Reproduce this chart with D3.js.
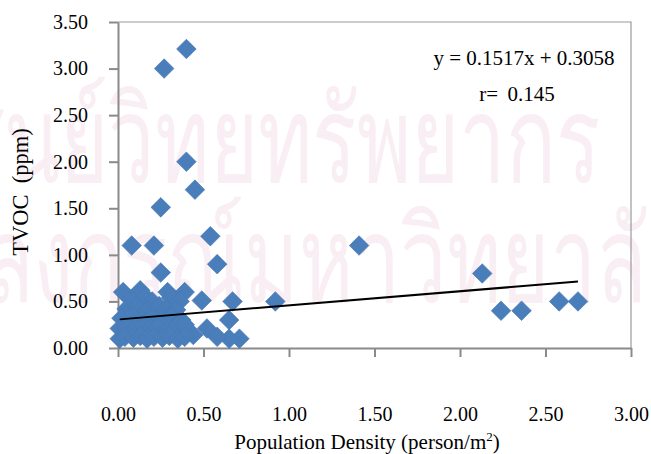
<!DOCTYPE html>
<html lang="en">
<head>
  <meta charset="UTF-8">
  <title>TVOC vs Population Density</title>
  <script src="https://d3js.org/d3.v7.min.js"></script>
  <style>
    body { margin: 0; background: #fff; }
    text { font-family: "Liberation Serif", "Times New Roman", serif; }
  </style>
</head>
<body>
<script>
  // population density (person/m2) and TVOC (ppm)
  var density = [
    0.27, 0.40, 0.40, 0.45, 0.25, 0.08, 0.21, 0.54, 0.58, 0.25,
    0.92, 0.67, 0.49, 0.65, 0.71, 0.65, 0.58, 0.52, 0.44,
    1.41, 2.13, 2.24, 2.36, 2.58, 2.69,
    0.03, 0.13, 0.29, 0.39,
    0.08, 0.16, 0.20, 0.31, 0.36,
    0.05, 0.11, 0.17, 0.24, 0.28, 0.34,
    0.02, 0.08, 0.14, 0.20, 0.26, 0.31, 0.37,
    0.01, 0.05, 0.10, 0.15, 0.19, 0.23, 0.29, 0.34, 0.39,
    0.01, 0.04, 0.09, 0.13, 0.17, 0.21, 0.26, 0.30, 0.35, 0.39
  ];
  var tvoc = [
    3.00, 3.21, 2.00, 1.70, 1.51, 1.10, 1.10, 1.20, 0.90, 0.81,
    0.50, 0.50, 0.51, 0.30, 0.10, 0.10, 0.12, 0.21, 0.14,
    1.10, 0.80, 0.40, 0.40, 0.50, 0.50,
    0.60, 0.62, 0.60, 0.60,
    0.52, 0.55, 0.50, 0.54, 0.50,
    0.42, 0.44, 0.40, 0.45, 0.42, 0.41,
    0.32, 0.34, 0.30, 0.33, 0.31, 0.34, 0.30,
    0.21, 0.23, 0.20, 0.24, 0.21, 0.22, 0.20, 0.23, 0.25,
    0.10, 0.12, 0.11, 0.13, 0.10, 0.12, 0.11, 0.13, 0.10, 0.12
  ];
  var xTicks = [0, 0.5, 1, 1.5, 2, 2.5, 3];
  var yTicks = [0, 0.5, 1, 1.5, 2, 2.5, 3, 3.5];
  var slope = 0.1517, intercept = 0.3058, rValue = 0.145;
  var watermark = ["ศูนย์วิทยทรัพยากร", "จุฬาลงกรณ์มหาวิทยาลัย"];

  var W = 651, H = 454,
    plot = { left: 118, top: 22, right: 631, bottom: 348 };

  var svg = d3.select("body").append("svg")
    .attr("width", W)
    .attr("height", H);

  // faint background watermark, squeezed horizontally
  var sx = 0.69;
  var wm = svg.append("g")
    .attr("transform", "scale(" + sx + ",1)")
    .style("font-family", "'Noto Sans Thai', 'DejaVu Sans', sans-serif")
    .style("font-size", "120px")
    .style("fill", "#f9eef3");
  wm.append("text")
    .attr("x", 600 / sx).attr("y", 182)
    .attr("text-anchor", "end")
    .text(watermark[0]);
  wm.append("text")
    .attr("x", 695 / sx).attr("y", 302)
    .attr("text-anchor", "end")
    .text(watermark[1]);

  var x = d3.scaleLinear().domain([0, 3]).range([plot.left, plot.right]);
  var y = d3.scaleLinear().domain([0, 3.5]).range([plot.bottom, plot.top]);

  // plot frame (top and right)
  svg.append("path")
    .attr("d", "M" + plot.left + "," + plot.top + "H" + plot.right + "V" + plot.bottom)
    .style("fill", "none")
    .style("stroke", "#9a9a9a")
    .style("stroke-width", 1.2);

  svg.append("g")
    .attr("transform", "translate(0," + plot.bottom + ")")
    .call(d3.axisBottom(x).tickValues(xTicks).tickFormat(d3.format(".2f"))
      .tickSize(9).tickSizeOuter(0).tickPadding(50));

  svg.append("g")
    .attr("transform", "translate(" + plot.left + ",0)")
    .call(d3.axisLeft(y).tickValues(yTicks).tickFormat(d3.format(".2f"))
      .tickSize(9).tickSizeOuter(0).tickPadding(21));

  svg.selectAll(".domain, .tick line")
    .style("stroke", "#8a8a8a")
    .style("stroke-width", 2);
  svg.selectAll(".tick text")
    .style("font-family", "'Liberation Serif', serif")
    .style("font-size", "20px")
    .style("fill", "#000");

  // points
  var diamond = d3.symbol().type(d3.symbolSquare).size(192);
  svg.append("g").selectAll("path")
    .data(density)
    .enter().append("path")
    .attr("d", diamond)
    .attr("transform", function (d, i) {
      return "translate(" + x(d) + "," + y(tvoc[i]) + ") rotate(45)";
    })
    .style("fill", "#4a7ebb")
    .style("stroke", "#4577b5")
    .style("stroke-width", 0.6);

  // linear trendline over data range
  var xr = d3.extent(density);
  svg.append("line")
    .attr("x1", x(xr[0])).attr("y1", y(slope * xr[0] + intercept))
    .attr("x2", x(xr[1])).attr("y2", y(slope * xr[1] + intercept))
    .style("stroke", "#000")
    .style("stroke-width", 2);

  svg.append("text")
    .attr("x", 524).attr("y", 65)
    .attr("text-anchor", "middle")
    .style("font-size", "21px")
    .text("y = " + slope + "x + " + intercept);
  svg.append("text")
    .attr("x", 517).attr("y", 101)
    .attr("text-anchor", "middle")
    .style("font-size", "21px")
    .style("word-spacing", "4px")
    .text("r= " + rValue);

  // axis titles
  var xt = svg.append("text")
    .attr("x", 367).attr("y", 449)
    .attr("text-anchor", "middle")
    .style("font-size", "21px")
    .text("Population Density (person/m");
  xt.append("tspan").attr("dy", -8).style("font-size", "13px").text("2");
  xt.append("tspan").attr("dy", 8).text(")");

  svg.append("text")
    .attr("transform", "translate(28,192) rotate(-90)")
    .attr("text-anchor", "middle")
    .style("font-size", "22.5px")
    .text("TVOC\u00a0\u00a0(ppm)");
</script>
</body>
</html>
